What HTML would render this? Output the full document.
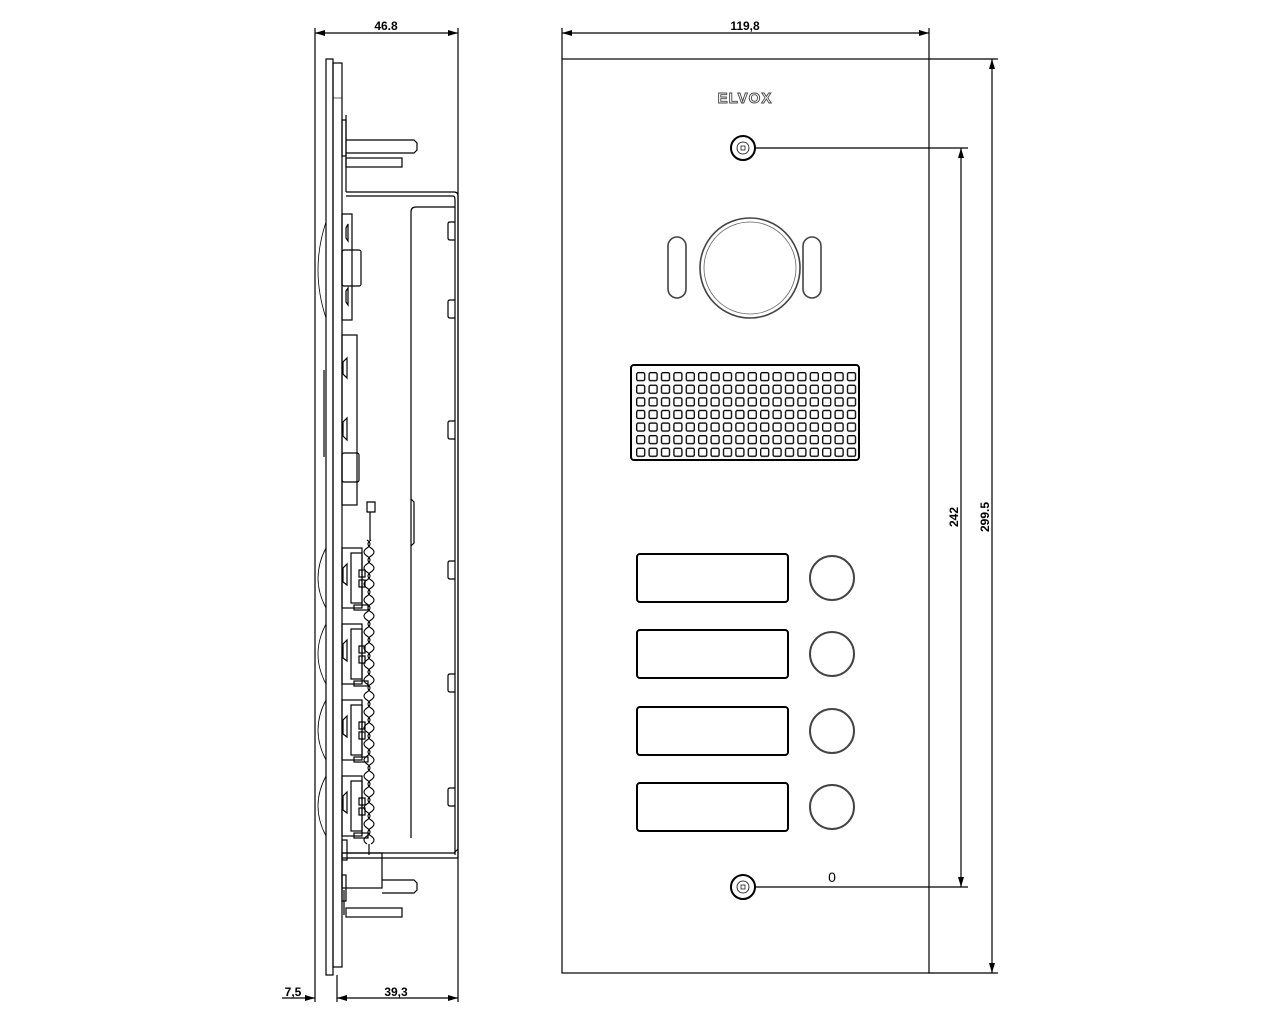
<!DOCTYPE html>
<html><head><meta charset="utf-8"><style>
html,body{margin:0;padding:0;background:#fff;}
svg{display:block}
text{font-family:"Liberation Sans",sans-serif;}
</style></head><body>
<svg width="1280" height="1024" viewBox="0 0 1280 1024" xmlns="http://www.w3.org/2000/svg">
<defs>
<marker id="a" viewBox="0 0 10 6" refX="10" refY="3" markerWidth="10" markerHeight="6" orient="auto-start-reverse" markerUnits="userSpaceOnUse"><path d="M0,0L10,3L0,6z" fill="#000"/></marker>
<pattern id="gp" patternUnits="userSpaceOnUse" x="636" y="372" width="12.4" height="12.6">
<rect x="0.7" y="0.7" width="8" height="8" rx="1.5" fill="none" stroke="#000" stroke-width="1.3"/>
</pattern>
</defs>
<g fill="none" stroke="#000" stroke-width="1.2">
<line x1="315" y1="28" x2="315" y2="1002"/>
<line x1="458" y1="28" x2="458" y2="1002"/>
<line x1="337" y1="975" x2="337" y2="1002"/>
<line x1="315" y1="33" x2="458" y2="33" marker-start="url(#a)" marker-end="url(#a)"/>
<line x1="282" y1="998" x2="315" y2="998" marker-end="url(#a)"/>
<line x1="337" y1="998" x2="458" y2="998" marker-start="url(#a)" marker-end="url(#a)"/>
<rect x="326" y="59" width="7" height="916"/>
<rect x="333" y="63" width="9" height="904"/>
<line x1="333" y1="98" x2="342" y2="98" stroke-width="0.6"/>
<rect x="342" y="120" width="4" height="36"/>
<path d="M346,140H414L417,143V150L414,153H346"/>
<rect x="346" y="158" width="56" height="9"/>
<line x1="346" y1="115" x2="346" y2="192"/>
<path d="M346,192H454Q458,192 458,196V858"/>
<path d="M346,196H453Q455,196 455,200V855"/>
<path d="M411,838V212Q411,207 416,207H455"/>
<path d="M411,499L414,502V543L411,546"/>
<g>
<path d="M455,222H450Q448,222 448,224V238Q448,240 450,240H455"/>
<path d="M455,300H450Q448,300 448,302V316Q448,318 450,318H455"/>
<path d="M455,421H450Q448,421 448,423V437Q448,439 450,439H455"/>
<path d="M455,561H450Q448,561 448,563V577Q448,579 450,579H455"/>
<path d="M455,674H450Q448,674 448,676V690Q448,692 450,692H455"/>
<path d="M455,788H450Q448,788 448,790V804Q448,806 450,806H455"/>
</g>
<rect x="342" y="214" width="10" height="106"/>
<rect x="342" y="250" width="19" height="36" rx="2"/>
<path d="M346,228L348,224V241L346,238Z"/>
<path d="M346,291L348,288V305L346,302Z"/>
<path d="M326,222Q310,270 326,318" stroke-width="0.8"/>
<rect x="342" y="335" width="15" height="170"/>
<path d="M343,362L347,358V378L343,374Z"/>
<path d="M343,422L347,418V440L343,436Z"/>
<rect x="342" y="453" width="17" height="29" rx="2"/>
<path d="M324,370V457" stroke-width="1.2"/>
<path d="M367,502H375V512H367Z"/>
<line x1="370" y1="512" x2="370" y2="540"/>
<g id="bm">
<rect x="342" y="548" width="20" height="60"/>
<rect x="351" y="553" width="11" height="50"/>
<rect x="359" y="570" width="6" height="7"/>
<rect x="359" y="580" width="6" height="7"/>
<rect x="354" y="605" width="14" height="5"/>
<path d="M343,568L347,564V585L343,582Z"/>
<path d="M326,548Q310,578 326,608" stroke-width="0.8"/>
</g>
<use href="#bm" y="76"/>
<use href="#bm" y="152"/>
<use href="#bm" y="228"/>
<g stroke-width="1.1">
<path d="M367,540 Q373,544 367,548 Q361,552 367,556 Q373,560 367,564 Q361,568 367,572 Q373,576 367,580 Q361,584 367,588 Q373,592 367,596 Q361,600 367,604 Q373,608 367,612 Q361,616 367,620 Q373,624 367,628 Q361,632 367,636 Q373,640 367,644 Q361,648 367,652 Q373,656 367,660 Q361,664 367,668 Q373,672 367,676 Q361,680 367,684 Q373,688 367,692 Q361,696 367,700 Q373,704 367,708 Q361,712 367,716 Q373,720 367,724 Q361,728 367,732 Q373,736 367,740 Q361,744 367,748 Q373,752 367,756 Q361,760 367,764 Q373,768 367,772 Q361,776 367,780 Q373,784 367,788 Q361,792 367,796 Q373,800 367,804 Q361,808 367,812 Q373,816 367,820 Q361,824 367,828 Q373,832 367,836 Q361,840 367,844"/>
<path d="M371,540 Q365,544 371,548 Q377,552 371,556 Q365,560 371,564 Q377,568 371,572 Q365,576 371,580 Q377,584 371,588 Q365,592 371,596 Q377,600 371,604 Q365,608 371,612 Q377,616 371,620 Q365,624 371,628 Q377,632 371,636 Q365,640 371,644 Q377,648 371,652 Q365,656 371,660 Q377,664 371,668 Q365,672 371,676 Q377,680 371,684 Q365,688 371,692 Q377,696 371,700 Q365,704 371,708 Q377,712 371,716 Q365,720 371,724 Q377,728 371,732 Q365,736 371,740 Q377,744 371,748 Q365,752 371,756 Q377,760 371,764 Q365,768 371,772 Q377,776 371,780 Q365,784 371,788 Q377,792 371,796 Q365,800 371,804 Q377,808 371,812 Q365,816 371,820 Q377,824 371,828 Q365,832 371,836 Q377,840 371,844"/>
</g>
<line x1="369" y1="844" x2="369" y2="855"/>
<path d="M342,853H454L458,849"/>
<path d="M342,858H458"/>
<rect x="342" y="840" width="5" height="20"/>
<rect x="342" y="853" width="40" height="35"/>
<rect x="342" y="875" width="4" height="26"/>
<path d="M382,880H414L417,883V890L414,893H382"/>
<rect x="346" y="908" width="56" height="9"/>
<line x1="344" y1="890" x2="344" y2="915"/>
<rect x="562" y="59" width="367" height="914"/>
<line x1="562" y1="28" x2="562" y2="59"/>
<line x1="929" y1="28" x2="929" y2="59"/>
<line x1="562" y1="33" x2="929" y2="33" marker-start="url(#a)" marker-end="url(#a)"/>
<line x1="929" y1="59" x2="998" y2="59"/>
<line x1="929" y1="973" x2="998" y2="973"/>
<line x1="992" y1="59" x2="992" y2="973" marker-start="url(#a)" marker-end="url(#a)"/>
<line x1="743" y1="148" x2="968" y2="148"/>
<line x1="743" y1="887" x2="968" y2="887"/>
<line x1="961" y1="148" x2="961" y2="887" marker-start="url(#a)" marker-end="url(#a)"/>
<circle cx="743" cy="148" r="12" fill="#fff" stroke-width="2"/>
<circle cx="743" cy="148" r="6" stroke-width="0.8"/>
<rect x="741" y="146" width="4" height="4" stroke-width="0.7"/>
<circle cx="743" cy="887" r="12" fill="#fff" stroke-width="2"/>
<circle cx="743" cy="887" r="6" stroke-width="0.8"/>
<rect x="741" y="885" width="4" height="4" stroke-width="0.7"/>
<circle cx="750" cy="268" r="50" stroke="#444" stroke-width="1.6"/>
<circle cx="750" cy="268" r="46" stroke="#666" stroke-width="0.8"/>
<rect x="668" y="237" width="18" height="61" rx="9" stroke="#444" stroke-width="1.6"/>
<rect x="803" y="237" width="18" height="61" rx="9" stroke="#444" stroke-width="1.6"/>
<rect x="631" y="365" width="228" height="95" rx="3" stroke-width="2"/>
<rect x="636" y="372" width="223" height="87" fill="url(#gp)" stroke="none"/>
<rect x="637" y="554" width="151" height="48" rx="3" stroke-width="2"/>
<rect x="637" y="630" width="151" height="48" rx="3" stroke-width="2"/>
<rect x="637" y="707" width="151" height="48" rx="3" stroke-width="2"/>
<rect x="637" y="783" width="151" height="48" rx="3" stroke-width="2"/>
<circle cx="832" cy="578" r="22" stroke="#444" stroke-width="2"/>
<circle cx="832" cy="654" r="22" stroke="#444" stroke-width="2"/>
<circle cx="832" cy="731" r="22" stroke="#444" stroke-width="2"/>
<circle cx="832" cy="807" r="22" stroke="#444" stroke-width="2"/>
</g>
<g font-size="12" fill="#000">
<text x="386" y="30" text-anchor="middle" font-weight="bold">46.8</text>
<text x="745" y="30" text-anchor="middle" font-weight="bold">119,8</text>
<text x="293" y="996" text-anchor="middle" font-weight="bold">7,5</text>
<text x="396" y="996" text-anchor="middle" font-weight="bold">39,3</text>
<text x="958" y="517" text-anchor="middle" font-weight="bold" transform="rotate(-90 958 517)">242</text>
<text x="989" y="517" text-anchor="middle" font-weight="bold" transform="rotate(-90 989 517)">299.5</text>
<text x="832" y="882" text-anchor="middle" font-size="14">0</text>
<text x="745" y="103" text-anchor="middle" font-size="15" font-weight="bold" fill="#fff" stroke="#444" stroke-width="0.9" letter-spacing="1">ELVOX</text>
</g>
</svg>
</body></html>
